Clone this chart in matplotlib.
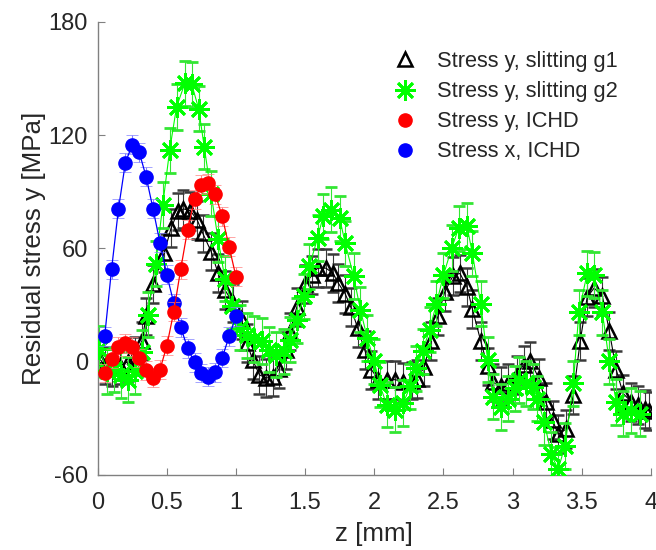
import matplotlib
matplotlib.use("Agg")
import matplotlib.pyplot as plt
from matplotlib.lines import Line2D
import numpy as np

plt.rcParams['font.family'] = ['Liberation Sans', 'DejaVu Sans']
plt.rcParams['axes.unicode_minus'] = False

# ---- data ----
g1_z = [0.00, 0.05, 0.10, 0.16, 0.22, 0.27, 0.32, 0.35, 0.40, 0.48, 0.53, 0.58, 0.62, 0.67,
        0.72, 0.76, 0.82, 0.87, 0.92, 0.98, 1.04, 1.08, 1.12, 1.17, 1.22, 1.27, 1.31, 1.36,
        1.39, 1.44, 1.50, 1.55, 1.59, 1.65, 1.70, 1.74, 1.79, 1.83, 1.88, 1.93, 1.98, 2.03,
        2.09, 2.15, 2.21, 2.27, 2.31, 2.36, 2.41, 2.46, 2.51, 2.57, 2.62, 2.67, 2.71, 2.77,
        2.82, 2.86, 2.92, 2.97, 3.03, 3.08, 3.13, 3.19, 3.24, 3.29, 3.33, 3.39, 3.44, 3.49,
        3.54, 3.59, 3.65, 3.70, 3.75, 3.80, 3.86, 3.91, 3.96, 3.99]
g1_s = [3, -2, -3, -2, 0, 3, 11, 24, 41, 57.5, 70.7, 79.6, 81, 80,
        75, 68, 58.4, 47, 38, 31, 22, 10, 1, -7, -8.6, -8, -4, 6,
        16, 29, 41, 46, 49.6, 49.6, 47, 41.6, 36, 29, 17.8, 6.4, -4.2, -9.5,
        -9.5, -9.5, -10.5, -10, -9, -3, 11, 24, 37, 45.6, 46.8, 39.7, 28, 11,
        -2.5, -11, -13, -11.4, -6.9, -1.6, 0.2, -8.7, -21.3, -31, -38.4, -35.6, -17.7, 11,
        34.2, 39, 35, 16.3, -4.2, -16.8, -21.3, -23, -24.9, -26]
g1_err = 10

g2_z = [0.01, 0.07, 0.12, 0.17, 0.22, 0.27, 0.32, 0.36, 0.42, 0.47, 0.52, 0.57, 0.63, 0.68,
        0.73, 0.77, 0.82, 0.87, 0.92, 0.97, 1.03, 1.08, 1.13, 1.19, 1.24, 1.29, 1.35, 1.39,
        1.44, 1.49, 1.53, 1.59, 1.63, 1.69, 1.75, 1.79, 1.85, 1.90, 1.95, 2.00, 2.04, 2.09,
        2.15, 2.21, 2.26, 2.30, 2.35, 2.40, 2.45, 2.50, 2.56, 2.61, 2.67, 2.71, 2.77, 2.82,
        2.86, 2.92, 2.97, 3.02, 3.05, 3.10, 3.15, 3.18, 3.23, 3.28, 3.33, 3.38, 3.44, 3.48,
        3.54, 3.59, 3.65, 3.70, 3.75, 3.80, 3.86, 3.92]
g2_s = [7, -5, -4, -7, -9.5, -5, 5, 25, 52, 83, 112, 135, 147.5, 147,
        134, 114, 89, 65, 44, 29.6, 18, 14, 12, 11, 6.4, 3.7, 5.5, 11.6,
        22, 34.6, 50.5, 65.5, 77, 80.5, 76, 62.8, 45.5, 27.5, 12.5, 0.2, -12.2, -22.8,
        -25.4, -21.9, -13, -3.5, 5.5, 17, 30.7, 45.8, 60.2, 70.7, 71.9, 57.5, 30.7, 1.1,
        -18.6, -24, -19.5, -14.1, -9.6, -11.4, -13.2, -19.5, -32, -49, -57, -44.6, -11.4, 26.2,
        46.8, 45.9, 26.2, 0.2, -21.3, -27.5, -26, -27.5]
g2_err = 12

ichd_z = [0.05, 0.10, 0.15, 0.20, 0.25, 0.30, 0.35, 0.40, 0.45, 0.50,
          0.55, 0.60, 0.65, 0.70, 0.75, 0.80, 0.85, 0.90, 0.95, 1.00]
ichd_sy = [-6, 1.5, 8, 9.8, 8, 2, -4.5, -8.5, -4.2, 8.5,
           26.6, 49, 70, 86, 93.7, 94.6, 88.7, 77, 61, 45]
ichd_sx = [13.4, 49, 81, 105.5, 115, 111, 98, 81, 63, 46,
           31, 18.3, 7.2, -0.4, -6, -8, -5.6, 2, 13.4, 24]
ichd_err = 5

labels = ['Stress y, slitting g1', 'Stress y, slitting g2',
          'Stress y, ICHD', 'Stress x, ICHD']

# ---- plot ----
fig = plt.figure(figsize=(6.56, 5.5), dpi=100)
ax = fig.add_axes([0.149, 0.1364, 0.843, 0.8236])


def eb(x, y, err, color, ecol, capcol, **kw):
    h = ax.errorbar(x, y, yerr=err, color=color, ecolor=ecol, elinewidth=0.8,
                    capsize=4, capthick=0.5, **kw)
    for c in h[1]:
        c.set_color(capcol)
    return h


eb(g1_z, g1_s, g1_err, 'black', '#3a3a3a', '#b8b8b8', lw=0.8,
   marker='^', ms=10, mfc='none', mec='black', mew=1.8, zorder=2)
eb(g2_z, g2_s, g2_err, '#00ff00', '#33e633', '#b0f5b0', lw=0.8,
   marker=(8, 2, 0), ms=15, mec='#00ff00', mew=2, zorder=3)
eb(ichd_z, ichd_sx, ichd_err, '#0000ff', '#8080ff', '#c8c8ff', lw=0.9,
   marker='o', ms=9.5, mfc='#0000ff', mec='#0000ff', zorder=4)
eb(ichd_z, ichd_sy, ichd_err, '#ff0000', '#ff8080', '#ffc8c8', lw=0.9,
   marker='o', ms=9.5, mfc='#ff0000', mec='#ff0000', zorder=5)

ax.set_xlim(0, 4)
ax.set_ylim(-60, 180)
ax.set_xticks(np.arange(0, 4.01, 0.5))
ax.set_xticklabels(['0', '0.5', '1', '1.5', '2', '2.5', '3', '3.5', '4'])
ax.set_yticks([-60, 0, 60, 120, 180])

for s in ['top', 'right']:
    ax.spines[s].set_visible(False)
for s in ['left', 'bottom']:
    ax.spines[s].set_color('#808080')
    ax.spines[s].set_linewidth(1.0)
ax.tick_params(direction='in', length=5, width=0.8, color='#808080',
               labelsize=17, labelcolor='#262626')
ax.tick_params(axis='y', pad=7)
ax.tick_params(axis='x', pad=12)

ax.set_xlabel('z [mm]', fontsize=18.7, color='#262626', labelpad=6)
ax.set_ylabel('Residual stress y [MPa]', fontsize=18.7, color='#262626', labelpad=2)

leg_handles = [
    Line2D([], [], ls='none', marker='^', ms=10, mfc='none', mec='black', mew=1.8),
    Line2D([], [], ls='none', marker=(8, 2, 0), ms=15, mec='#00ff00', mew=2),
    Line2D([], [], ls='none', marker='o', ms=9.5, mfc='#ff0000', mec='#ff0000'),
    Line2D([], [], ls='none', marker='o', ms=9.5, mfc='#0000ff', mec='#0000ff'),
]
fig.legend(leg_handles, labels, loc='upper left', bbox_to_anchor=(394 / 656, 1 - 51 / 550),
           frameon=False, fontsize=15.7, handlelength=1.0, handletextpad=0.97,
           labelspacing=0.42, borderpad=0, borderaxespad=0, labelcolor='#262626')

fig.savefig('out.png', dpi=100)
